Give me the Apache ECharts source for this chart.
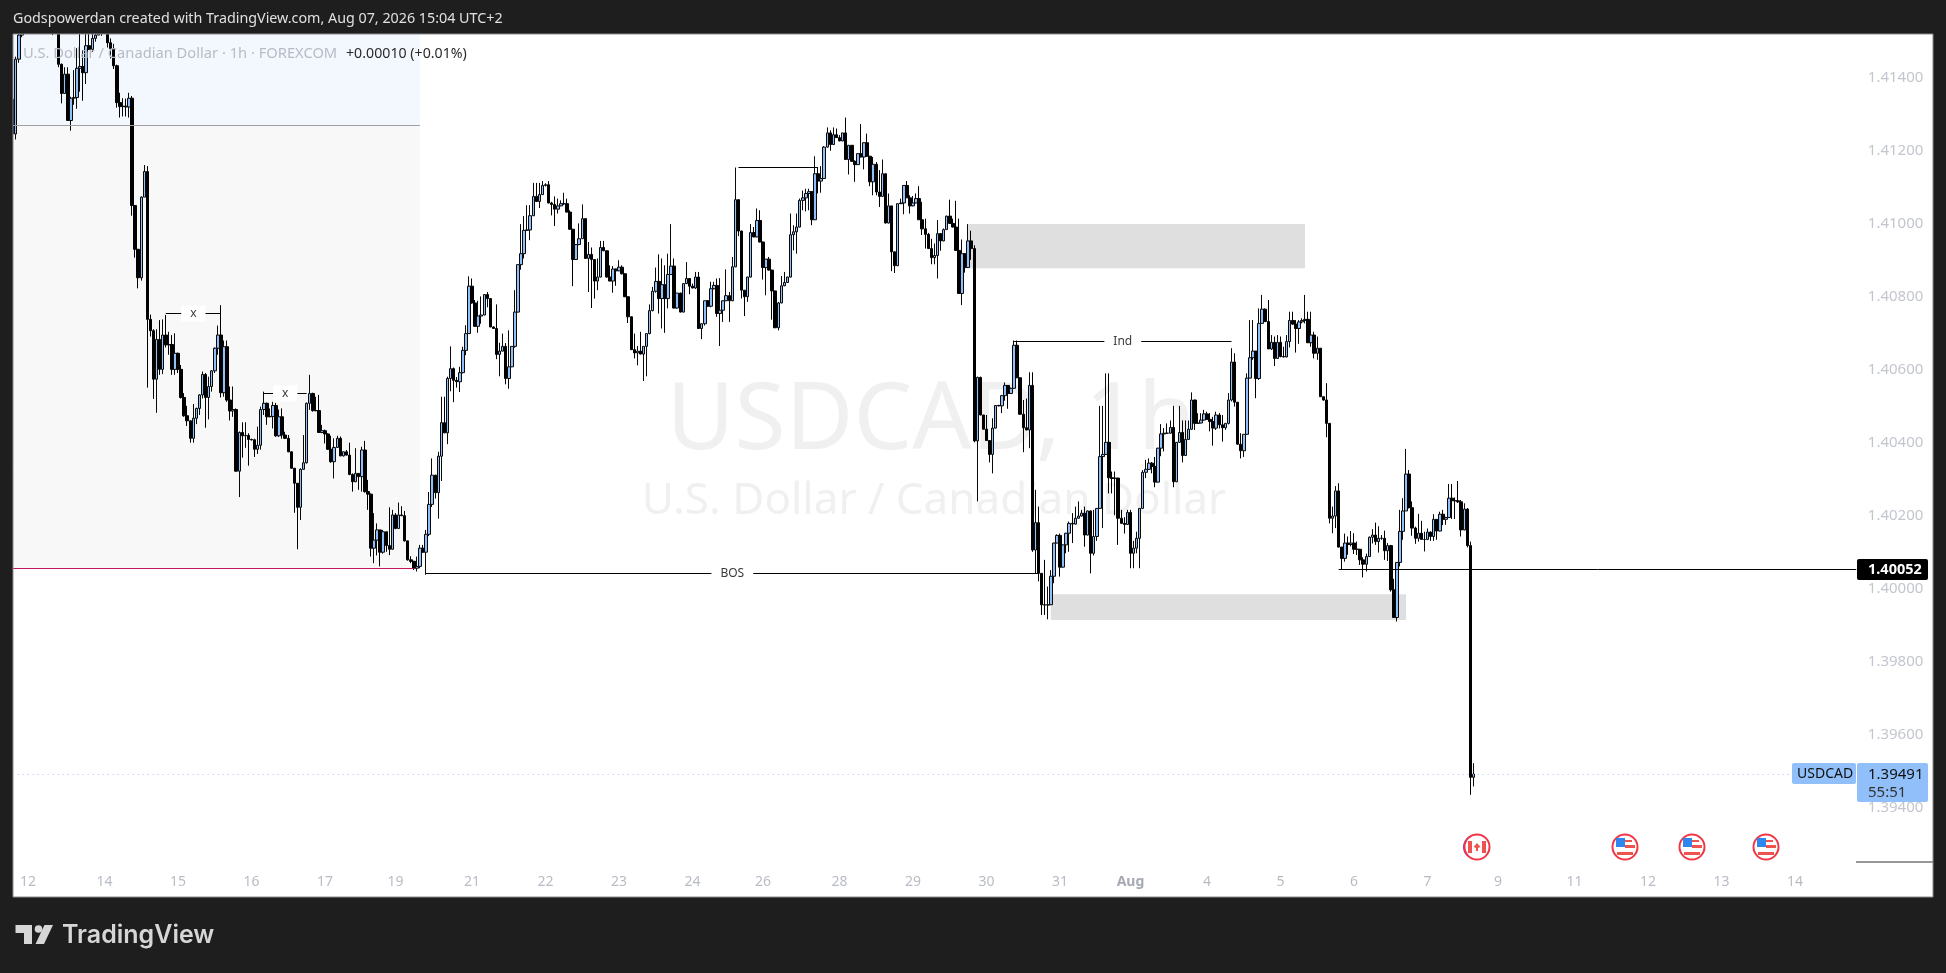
<!DOCTYPE html>
<html><head><meta charset="utf-8">
<style>html,body{margin:0;padding:0;background:#1e1e1e}#c{width:1946px;height:973px}</style>
<script src="https://cdn.jsdelivr.net/npm/echarts@6/dist/echarts.min.js"></script>
</head><body><div id="c"></div>
<script>
const opens=[1.4134,1.41245,1.4145,1.41516,1.4156,1.416,1.4158,1.4163,1.416,1.4165,
1.4162,1.416,1.4164,1.4159,1.4156,1.416,1.41436,1.41356,1.41409,1.41282,1.41343,
1.41345,1.41425,1.4143,1.41413,1.41487,1.41477,1.41507,1.41516,1.4156,1.4155,
1.4154,1.41495,1.41479,1.41432,1.41331,1.4132,1.41321,1.41319,1.41343,1.41049,
1.40929,1.40851,1.41072,1.41142,1.40737,1.40706,1.40573,1.40682,1.406,1.40694,
1.40667,1.40668,1.406,1.40644,1.406,1.40523,1.40473,1.40459,1.40411,1.40466,
1.40493,1.4053,1.40586,1.40523,1.40553,1.40596,1.40658,1.40694,1.40536,1.40662,
1.40516,1.40486,1.4049,1.40321,1.40427,1.40418,1.40419,1.40408,1.40407,1.40381,
1.40392,1.4049,1.40507,1.4047,1.40471,1.40501,1.40418,1.4047,1.4042,1.40411,
1.40374,1.40329,1.40288,1.40222,1.40326,1.40344,1.40507,1.40534,1.40487,1.40487,
1.40427,1.40432,1.40423,1.40381,1.40347,1.40386,1.40411,1.40363,1.40374,1.40365,
1.40312,1.40292,1.40315,1.40306,1.40379,1.40265,1.40258,1.4011,1.40132,1.4016,
1.40099,1.40155,1.40117,1.40107,1.40201,1.40164,1.40201,1.40199,1.4013,1.40078,
1.40074,1.40055,1.4006,1.4011,1.40099,1.40148,1.4023,1.4031,1.40262,1.40362,
1.40454,1.40426,1.40575,1.40602,1.4057,1.40566,1.40591,1.40652,1.40698,1.40828,
1.40782,1.40718,1.40746,1.40749,1.40805,1.40794,1.40716,1.40712,1.40641,1.4065,
1.40663,1.40575,1.40607,1.40663,1.40757,1.40887,1.40917,1.40981,1.40982,1.41021,
1.41074,1.4106,1.41079,1.41104,1.41106,1.41056,1.41052,1.41039,1.41048,1.41054,
1.41054,1.41031,1.40984,1.40901,1.40942,1.40958,1.41013,1.40904,1.40915,1.40901,
1.40842,1.40853,1.40934,1.40925,1.40853,1.40842,1.40875,1.4087,1.4088,1.40862,
1.40799,1.40744,1.40654,1.40645,1.4065,1.40642,1.40663,1.40698,1.40761,1.40814,
1.40841,1.40794,1.40832,1.40794,1.4086,1.40883,1.40768,1.40809,1.40757,1.40835,
1.40849,1.40828,1.40823,1.40853,1.40712,1.40725,1.40788,1.40773,1.40821,1.4083,
1.40753,1.40762,1.40788,1.40802,1.40788,1.40881,1.41065,1.40979,1.40817,1.40799,
1.40853,1.40975,1.40963,1.41008,1.40949,1.40879,1.40902,1.40872,1.40815,1.40714,
1.40782,1.40829,1.40838,1.40853,1.40969,1.40977,1.4099,1.41063,1.4107,1.41082,
1.41087,1.4101,1.41136,1.41116,1.41123,1.41209,1.41248,1.41216,1.41243,1.41235,
1.41226,1.41248,1.41175,1.41214,1.4117,1.41161,1.41191,1.41182,1.41221,1.41184,
1.41114,1.41162,1.41086,1.41074,1.41136,1.41001,1.41048,1.40922,1.40884,1.41054,
1.41056,1.41104,1.4107,1.41048,1.41056,1.41068,1.4101,1.40985,1.4097,1.40931,
1.40906,1.40912,1.40972,1.40952,1.40983,1.4102,1.41,1.4099,1.40926,1.40808,
1.40917,1.40879,1.40952,1.40931,1.40404,1.40578,1.40475,1.40436,1.40405,1.40367,
1.40439,1.40501,1.405,1.40528,1.40556,1.40534,1.40548,1.40666,1.40577,1.40477,
1.4044,1.40434,1.40556,1.40105,1.4018,1.40041,1.39955,1.39954,1.39955,1.40033,
1.40124,1.40145,1.40058,1.40119,1.40151,1.40178,1.40176,1.40192,1.40198,1.40206,
1.40146,1.40212,1.40096,1.40142,1.40219,1.40361,1.40367,1.404,1.40303,1.40301,
1.40302,1.40192,1.40178,1.40175,1.40208,1.40096,1.4011,1.40137,1.40219,1.40318,
1.40326,1.40343,1.40334,1.40291,1.40384,1.40423,1.40425,1.40425,1.40441,1.40292,
1.404,1.40427,1.40364,1.40408,1.40436,1.40516,1.40452,1.40453,1.40461,1.40478,
1.40463,1.40457,1.40439,1.40475,1.40448,1.4044,1.40452,1.40516,1.4062,1.4051,
1.40395,1.40377,1.40422,1.40576,1.40632,1.4065,1.40575,1.40726,1.40765,1.40731,
1.40656,1.40674,1.4063,1.40674,1.40635,1.40634,1.40676,1.40734,1.40724,1.40712,
1.4073,1.40734,1.40737,1.40673,1.40694,1.40644,1.40658,1.40525,1.40516,1.40452,
1.40192,1.40198,1.40267,1.40113,1.40082,1.40124,1.4012,1.40124,1.40107,1.40107,
1.40078,1.40066,1.40087,1.4014,1.40146,1.40128,1.40137,1.40137,1.40103,1.40117,
1.39996,1.3992,1.40071,1.40156,1.40212,1.40313,1.40221,1.40165,1.40137,1.40151,
1.40134,1.40134,1.40154,1.40142,1.40189,1.40157,1.40203,1.40189,1.40194,1.40247,
1.4024,1.4024,1.40237,1.4016,1.40217,1.40117,1.39482];
const closes=[1.41245,1.4145,1.41516,1.4156,1.416,1.4158,1.4163,1.416,1.4165,1.4162,
1.416,1.4164,1.4159,1.4156,1.416,1.41436,1.41356,1.41409,1.41282,1.41343,1.41345,
1.41425,1.4143,1.41413,1.41487,1.41477,1.41507,1.41516,1.4156,1.4155,1.4157,
1.41495,1.41479,1.41432,1.41331,1.4132,1.41321,1.41319,1.41343,1.41049,1.40929,
1.40851,1.41072,1.41142,1.40737,1.40706,1.40573,1.40682,1.406,1.40694,1.40667,
1.40668,1.406,1.40644,1.406,1.40523,1.40473,1.40459,1.40411,1.40466,1.40493,
1.4053,1.40586,1.40523,1.40553,1.40596,1.40658,1.40694,1.40536,1.40662,1.40516,
1.40486,1.4049,1.40321,1.40427,1.40418,1.40419,1.40408,1.40407,1.40381,1.40392,
1.4049,1.40507,1.4047,1.40471,1.40501,1.40418,1.4047,1.4042,1.40411,1.40374,
1.40329,1.40288,1.40222,1.40326,1.40344,1.40507,1.40534,1.40487,1.40487,1.40427,
1.40432,1.40423,1.40381,1.40347,1.40386,1.40411,1.40363,1.40374,1.40365,1.40312,
1.40292,1.40315,1.40306,1.40379,1.40265,1.40258,1.4011,1.40132,1.4016,1.40099,
1.40155,1.40117,1.40107,1.40201,1.40164,1.40201,1.40199,1.4013,1.40078,1.40074,
1.40055,1.4006,1.4011,1.40099,1.40148,1.4023,1.4031,1.40262,1.40362,1.40454,
1.40426,1.40575,1.40602,1.4057,1.40566,1.40591,1.40652,1.40698,1.40828,1.40782,
1.40718,1.40746,1.40749,1.40805,1.40794,1.40716,1.40712,1.40641,1.4065,1.40663,
1.40575,1.40607,1.40663,1.40757,1.40887,1.40917,1.40981,1.40982,1.41021,1.41074,
1.4106,1.41079,1.41104,1.41106,1.41056,1.41052,1.41039,1.41048,1.41054,1.41054,
1.41031,1.40984,1.40901,1.40942,1.40958,1.41013,1.40904,1.40915,1.40901,1.40842,
1.40853,1.40934,1.40925,1.40853,1.40842,1.40875,1.4087,1.4088,1.40862,1.40799,
1.40744,1.40654,1.40645,1.4065,1.40642,1.40663,1.40698,1.40761,1.40814,1.40841,
1.40794,1.40832,1.40794,1.4086,1.40883,1.40768,1.40809,1.40757,1.40835,1.40849,
1.40828,1.40823,1.40853,1.40712,1.40725,1.40788,1.40773,1.40821,1.4083,1.40753,
1.40762,1.40788,1.40802,1.40788,1.40881,1.41065,1.40979,1.40817,1.40799,1.40853,
1.40975,1.40963,1.41008,1.40949,1.40879,1.40902,1.40872,1.40815,1.40714,1.40782,
1.40829,1.40838,1.40853,1.40969,1.40977,1.4099,1.41063,1.4107,1.41082,1.41087,
1.4101,1.41136,1.41116,1.41123,1.41209,1.41248,1.41216,1.41243,1.41235,1.41226,
1.41248,1.41175,1.41214,1.4117,1.41161,1.41191,1.41182,1.41221,1.41184,1.41114,
1.41162,1.41086,1.41074,1.41136,1.41001,1.41048,1.40922,1.40884,1.41054,1.41056,
1.41104,1.4107,1.41048,1.41056,1.41068,1.4101,1.40985,1.4097,1.40931,1.40906,
1.40912,1.40972,1.40952,1.40983,1.4102,1.41,1.4099,1.40926,1.40808,1.40917,
1.40879,1.40952,1.40931,1.40404,1.40578,1.40475,1.40436,1.40405,1.40367,1.40439,
1.40501,1.405,1.40528,1.40556,1.40534,1.40548,1.40666,1.40577,1.40477,1.4044,
1.40434,1.40556,1.40105,1.4018,1.40041,1.39955,1.39954,1.39955,1.40033,1.40124,
1.40145,1.40058,1.40119,1.40151,1.40178,1.40176,1.40192,1.40198,1.40206,1.40146,
1.40212,1.40096,1.40142,1.40219,1.40361,1.40367,1.404,1.40303,1.40301,1.40302,
1.40192,1.40178,1.40175,1.40208,1.40096,1.4011,1.40137,1.40219,1.40318,1.40326,
1.40343,1.40334,1.40291,1.40384,1.40423,1.40425,1.40425,1.40441,1.40292,1.404,
1.40427,1.40364,1.40408,1.40436,1.40516,1.40452,1.40453,1.40461,1.40478,1.40463,
1.40457,1.40439,1.40475,1.40448,1.4044,1.40452,1.40516,1.4062,1.4051,1.40395,
1.40377,1.40422,1.40576,1.40632,1.4065,1.40575,1.40726,1.40765,1.40731,1.40656,
1.40674,1.4063,1.40674,1.40635,1.40634,1.40676,1.40734,1.40724,1.40712,1.4073,
1.40734,1.40737,1.40673,1.40694,1.40644,1.40658,1.40525,1.40516,1.40452,1.40192,
1.40198,1.40267,1.40113,1.40082,1.40124,1.4012,1.40124,1.40107,1.40107,1.40078,
1.40066,1.40087,1.4014,1.40146,1.40128,1.40137,1.40137,1.40103,1.40117,1.39996,
1.3992,1.40071,1.40156,1.40212,1.40313,1.40221,1.40165,1.40137,1.40151,1.40134,
1.40134,1.40154,1.40142,1.40189,1.40157,1.40203,1.40189,1.40194,1.40247,1.4024,
1.4024,1.40237,1.4016,1.40217,1.40117,1.39482,1.39491];
const lows=[1.41235,1.4123,1.4144,1.4151,1.4155,1.4156,1.4157,1.4158,1.4159,1.416,
1.4158,1.4158,1.4157,1.41516,1.4154,1.41428,1.41329,1.41356,1.41282,1.41254,1.41325,
1.41314,1.41361,1.41336,1.41382,1.41475,1.4147,1.41498,1.41516,1.41514,1.41526,
1.41482,1.41452,1.41423,1.41317,1.4129,1.41293,1.41293,1.4129,1.41021,1.40906,
1.40822,1.40843,1.41072,1.4055,1.4069,1.40519,1.40481,1.40585,1.40587,1.4066,
1.4064,1.40585,1.40585,1.4059,1.4052,1.4047,1.40445,1.40399,1.40399,1.4045,
1.40475,1.4052,1.4044,1.40463,1.40539,1.4059,1.4064,1.40523,1.40525,1.40511,
1.4046,1.4047,1.4032,1.4025,1.40358,1.40385,1.40336,1.40405,1.4036,1.40368,
1.4038,1.40475,1.40448,1.40469,1.40438,1.40415,1.40415,1.4041,1.40409,1.40373,
1.40328,1.40207,1.40107,1.40187,1.40325,1.40342,1.40489,1.40484,1.40485,1.40426,
1.40425,1.40397,1.40379,1.40344,1.40301,1.40385,1.40362,1.40361,1.40364,1.4031,
1.40265,1.40291,1.4027,1.40265,1.40262,1.40215,1.40087,1.40069,1.4009,1.4006,
1.40095,1.401,1.40091,1.40106,1.40162,1.40163,1.40198,1.40128,1.40076,1.40069,
1.4005,1.40046,1.40055,1.40097,1.40037,1.40143,1.40223,1.40246,1.40191,1.40294,
1.40425,1.40395,1.4054,1.4051,1.4055,1.40538,1.40589,1.40639,1.40697,1.4078,
1.40716,1.407,1.40725,1.40748,1.4077,1.40716,1.40711,1.40628,1.40581,1.40649,
1.40559,1.40547,1.40606,1.40659,1.40756,1.40873,1.40904,1.4098,1.40954,1.4102,
1.41059,1.41042,1.41078,1.41101,1.41055,1.41022,1.40993,1.41027,1.41047,1.4105,
1.4103,1.40983,1.40828,1.409,1.4094,1.40958,1.40903,1.40812,1.40768,1.40794,
1.40817,1.40852,1.40924,1.40852,1.40842,1.4081,1.40829,1.40869,1.4086,1.40798,
1.40727,1.40653,1.4063,1.40611,1.40641,1.40568,1.40581,1.40696,1.40759,1.4081,
1.40753,1.40712,1.407,1.40767,1.40859,1.40767,1.40766,1.40756,1.40756,1.40834,
1.40806,1.40822,1.4082,1.40712,1.40683,1.4072,1.40771,1.4077,1.40819,1.40744,
1.40664,1.4073,1.40787,1.4073,1.40787,1.4088,1.40965,1.40794,1.40746,1.40785,
1.40852,1.40962,1.40962,1.40948,1.40846,1.40803,1.40871,1.40736,1.40713,1.40707,
1.40781,1.40828,1.40837,1.40852,1.40926,1.40917,1.40989,1.41036,1.41033,1.41036,
1.40995,1.41009,1.41082,1.41084,1.41122,1.41208,1.41199,1.41215,1.41234,1.41225,
1.41225,1.41174,1.41134,1.41169,1.41114,1.4116,1.41181,1.41148,1.41183,1.41102,
1.41077,1.41077,1.41045,1.41073,1.41,1.41,1.40869,1.40864,1.40883,1.41053,
1.41025,1.4107,1.41027,1.41047,1.41055,1.4101,1.40968,1.40931,1.4093,1.40888,
1.40888,1.40849,1.40925,1.40951,1.40982,1.40999,1.40989,1.40925,1.40808,1.40776,
1.40865,1.40878,1.409,1.404,1.40238,1.40474,1.40435,1.40404,1.40345,1.40315,
1.40438,1.40499,1.4048,1.40514,1.40492,1.40533,1.40547,1.40576,1.40476,1.40373,
1.40433,1.40384,1.401,1.4004,1.40019,1.39927,1.39927,1.39915,1.39954,1.40014,
1.40123,1.40032,1.40057,1.40096,1.401,1.40124,1.40175,1.40191,1.40197,1.40114,
1.40145,1.40041,1.4009,1.4013,1.40218,1.40165,1.40366,1.4026,1.4026,1.402,
1.40119,1.40177,1.4015,1.40174,1.40055,1.40055,1.40096,1.40055,1.40218,1.40302,
1.40325,1.40315,1.40277,1.4029,1.40362,1.40375,1.40424,1.40424,1.40277,1.40291,
1.40399,1.40345,1.40363,1.40407,1.40434,1.40434,1.40451,1.40452,1.4046,1.40462,
1.4043,1.40391,1.40434,1.40438,1.40402,1.40434,1.40449,1.40512,1.40498,1.40394,
1.40356,1.4036,1.40421,1.40575,1.40626,1.40521,1.40571,1.40726,1.4073,1.40656,
1.40653,1.40609,1.40629,1.40633,1.40633,1.40633,1.4066,1.40722,1.40646,1.4067,
1.40726,1.40726,1.40673,1.40662,1.4063,1.40626,1.40525,1.40514,1.40414,1.40178,
1.40151,1.40165,1.40112,1.40052,1.40073,1.40092,1.40115,1.40094,1.40091,1.40064,
1.4003,1.40046,1.40086,1.40123,1.40119,1.40098,1.40133,1.40078,1.40075,1.39991,
1.3992,1.39909,1.4006,1.40133,1.40212,1.40219,1.40144,1.40122,1.40128,1.40133,
1.40101,1.40132,1.4013,1.4013,1.40133,1.40156,1.40173,1.40174,1.40193,1.4019,
1.4019,1.40234,1.40142,1.40159,1.40112,1.39434,1.39457];
const highs=[1.4136,1.41457,1.41525,1.4158,1.4162,1.4161,1.4165,1.4164,1.4167,1.4166,
1.4164,1.4165,1.4165,1.416,1.4162,1.4162,1.41438,1.41428,1.41428,1.41347,1.4142,
1.4148,1.4153,1.41475,1.4154,1.4154,1.4154,1.4155,1.4157,1.4158,1.4159,
1.4157,1.41507,1.41492,1.41435,1.41358,1.41343,1.41342,1.41358,1.41349,1.4105,
1.4093,1.41074,1.4116,1.41157,1.4075,1.4071,1.4071,1.40735,1.40737,1.40749,
1.40703,1.40694,1.40699,1.40646,1.40612,1.40535,1.405,1.4046,1.40505,1.40495,
1.40532,1.40594,1.4059,1.4058,1.40598,1.4066,1.4072,1.40776,1.40679,1.40679,
1.40553,1.40553,1.40493,1.4043,1.40455,1.40455,1.40425,1.4041,1.4041,1.40443,
1.40498,1.40539,1.40509,1.40493,1.40511,1.40508,1.4049,1.40493,1.40429,1.4042,
1.40375,1.4033,1.40288,1.40329,1.4042,1.40509,1.40585,1.40536,1.40525,1.4053,
1.40448,1.40435,1.40425,1.40418,1.40411,1.40418,1.40416,1.40375,1.40379,1.40399,
1.40315,1.40384,1.40315,1.40388,1.40404,1.40297,1.4026,1.40206,1.40178,1.4016,
1.4016,1.40155,1.40222,1.40215,1.40206,1.40235,1.40225,1.40212,1.4013,1.40088,
1.40075,1.40087,1.40119,1.40119,1.4016,1.40264,1.40356,1.40311,1.40374,1.40525,
1.40525,1.4058,1.40663,1.40605,1.40579,1.40607,1.40662,1.40721,1.40855,1.40849,
1.4079,1.40788,1.408,1.40805,1.40812,1.40794,1.40718,1.40778,1.40673,1.40698,
1.40672,1.40707,1.40663,1.40817,1.40888,1.40998,1.4102,1.4105,1.4105,1.41111,
1.41111,1.41111,1.41116,1.4111,1.41116,1.41059,1.41074,1.41068,1.41063,1.41084,
1.41068,1.41036,1.40985,1.40943,1.41,1.41052,1.41014,1.40949,1.40934,1.40901,
1.40904,1.40952,1.40952,1.40926,1.40885,1.40883,1.40876,1.40899,1.40885,1.40863,
1.408,1.40745,1.40698,1.40664,1.40703,1.40663,1.40698,1.40778,1.40826,1.40879,
1.40915,1.40904,1.40885,1.40917,1.40998,1.40904,1.40809,1.4081,1.40835,1.40894,
1.4085,1.40835,1.40867,1.40867,1.40726,1.40788,1.4079,1.4084,1.4084,1.40849,
1.4085,1.40789,1.40874,1.40812,1.40908,1.41153,1.41066,1.4098,1.40817,1.40854,
1.40998,1.4099,1.41041,1.41036,1.4095,1.40902,1.40908,1.40873,1.40815,1.40785,
1.40856,1.40867,1.40854,1.41027,1.40995,1.41027,1.41068,1.4109,1.41095,1.41095,
1.41088,1.41184,1.41153,1.41157,1.41212,1.41263,1.41255,1.41263,1.4126,1.41242,
1.41248,1.4129,1.41215,1.41214,1.41173,1.41192,1.41272,1.41222,1.41246,1.41185,
1.41182,1.41168,1.41146,1.41175,1.41137,1.41082,1.41048,1.40923,1.41055,1.41068,
1.41105,1.41116,1.41077,1.41075,1.41082,1.41102,1.41059,1.41013,1.40974,1.40958,
1.40945,1.41009,1.40973,1.40986,1.41021,1.41065,1.41013,1.41062,1.41013,1.40956,
1.40918,1.40998,1.4098,1.4094,1.4058,1.4058,1.40475,1.40475,1.40406,1.40466,
1.40502,1.40503,1.4053,1.40564,1.40557,1.4055,1.40679,1.40679,1.40578,1.40516,
1.4052,1.40592,1.40592,1.4027,1.40224,1.40042,1.40078,1.40005,1.4005,1.40125,
1.40148,1.4015,1.4012,1.40152,1.40183,1.40206,1.40224,1.40238,1.40215,1.40224,
1.40213,1.40213,1.40215,1.4022,1.405,1.405,1.40589,1.40589,1.4032,1.4032,
1.40303,1.40215,1.40195,1.40215,1.40215,1.4013,1.40155,1.4022,1.40324,1.40352,
1.40356,1.40346,1.4036,1.40385,1.4045,1.40439,1.40452,1.4046,1.405,1.40401,
1.405,1.4046,1.4046,1.4046,1.40537,1.40517,1.4048,1.4048,1.40489,1.40484,
1.4048,1.4047,1.40484,1.4048,1.40475,1.40453,1.40535,1.40658,1.40644,1.4051,
1.40425,1.40422,1.40589,1.40735,1.40735,1.4065,1.40767,1.40804,1.40767,1.4079,
1.40694,1.4069,1.40694,1.4069,1.40662,1.40694,1.40758,1.40758,1.40735,1.40735,
1.4074,1.40804,1.40758,1.40758,1.40703,1.4069,1.40658,1.40525,1.40562,1.40452,
1.40224,1.4028,1.40288,1.40113,1.4015,1.40142,1.40157,1.40151,1.40128,1.40108,
1.40085,1.40095,1.40142,1.40162,1.4018,1.4017,1.40146,1.40158,1.40124,1.40119,
1.40026,1.40071,1.40215,1.40247,1.40382,1.40324,1.40238,1.40169,1.40204,1.40185,
1.40155,1.40164,1.40156,1.40203,1.40189,1.4021,1.40215,1.40196,1.40286,1.40286,
1.40249,1.40294,1.40242,1.40233,1.4022,1.40128,1.39521];

const tickIndex=[5,30,54,78,102,125,150,174,198,222,245,270,294,318,342,365,390,414,438,462,485,510,534,558,582];
const tickLabels=['12','14','15','16','17','19','21','22','23','24','26','28','29','30','31','Aug','4','5','6','7','9','11','12','13','14'];
const priceTicks=[1.394,1.396,1.398,1.4,1.402,1.404,1.406,1.408,1.41,1.412,1.414];
const slotCount=603;
const lastPrice=1.39491, drawnLevel=1.40052;

const categories=[];for(let i=0;i<slotCount;i++){const k=tickIndex.indexOf(i);categories.push(k<0?'':tickLabels[k]);}
const candles=opens.map((o,i)=>[o,closes[i],lows[i],highs[i]]);

const FONT='"Noto Sans",sans-serif';
const hline=(x0,x1,y,color,label,extra)=>[{xAxis:x0,yAxis:y,lineStyle:Object.assign({color:color,width:1,type:'solid'},extra||{}),
  label:label?{show:true,position:'middle',distance:0,verticalAlign:'middle',align:'center',formatter:label,color:'#3a3a3a',fontFamily:FONT,fontSize:12,backgroundColor:'#fff',padding:[2,9]}:{show:false}},{xAxis:x1,yAxis:y}];

const chart=echarts.init(document.getElementById('c'),null,{renderer:'canvas'});
const txt=(x,y,text,fill,font,extra)=>({type:'text',x:x,y:y,z:(extra&&extra.z)||50,silent:true,style:Object.assign({text:text,fill:fill,font:font,textVerticalAlign:'middle'},extra||{})});
const rect=(x,y,w,h,fill,z,r,stroke)=>({type:'rect',z:z,silent:true,shape:{x:x,y:y,width:w,height:h,r:r||0},style:{fill:fill,stroke:stroke||null,lineWidth:1}});

function usFlag(cx,cy){return [
 {type:'circle',z:40,silent:true,shape:{cx:cx,cy:cy,r:12.5},style:{fill:'#fff',stroke:'#f23645',lineWidth:2}},
 rect(cx-9,cy-9,9,9,'#2f86ee',41),
 rect(cx,cy-7,7,2,'#ef5350',41),
 rect(cx,cy-2,10,3,'#ef5350',41),
 rect(cx-8,cy+5,16,3,'#ef5350',41)];}
function caFlag(cx,cy){return [
 {type:'circle',z:39,silent:true,shape:{cx:cx-1.5,cy:cy,r:12.5},style:{fill:'#7b3fe4'}},
 {type:'circle',z:40,silent:true,shape:{cx:cx,cy:cy,r:12.5},style:{fill:'#fff',stroke:'#f23645',lineWidth:2}},
 rect(cx-9,cy-6,4,12,'#ef5350',41),rect(cx+5,cy-6,4,12,'#ef5350',41),
 {type:'polygon',z:41,silent:true,shape:{points:[[cx,cy-4],[cx+3.5,cy],[cx+1,cy+1],[cx+1,cy+4],[cx-1,cy+4],[cx-1,cy+1],[cx-3.5,cy]]},style:{fill:'#ef5350'}}];}

chart.setOption({
 animation:false,
 backgroundColor:'#1e1e1e',
 grid:{left:11.1,top:34,width:1846.7,height:828,containLabel:false},
 xAxis:{type:'category',data:categories,boundaryGap:true,axisLine:{show:false},axisTick:{show:false},splitLine:{show:false},
  axisLabel:{interval:(i,v)=>v!=='',hideOverlap:false,showMinLabel:true,showMaxLabel:true,margin:13,fontFamily:FONT,fontSize:14,color:'#b9bcc6',
   formatter:v=>v==='Aug'?'{b|Aug}':v,rich:{b:{fontFamily:FONT,fontSize:14,fontWeight:'bold',color:'#a6a9b3'}}}},
 yAxis:{type:'value',position:'right',min:1.3925,max:1.41519,scale:true,axisLine:{show:false},splitLine:{show:false},
  axisTick:{show:false,customValues:priceTicks},
  axisLabel:{customValues:priceTicks,margin:10,align:'left',padding:[2,0,0,0],fontFamily:FONT,fontSize:15,color:'#c3c6ce',formatter:v=>v.toFixed(5),showMinLabel:true,showMaxLabel:true}},
 series:[
  {type:'line',z:1,data:[],silent:true,
   markArea:{silent:true,z:1,data:[
    [{xAxis:0,yAxis:1.41519,itemStyle:{color:'#f3f8ff'}},{xAxis:133,yAxis:1.41268}],
    [{xAxis:0,yAxis:1.41268,itemStyle:{color:'#f8f8f8'}},{xAxis:133,yAxis:1.40055}],
    [{xAxis:312,yAxis:1.40998,itemStyle:{color:'#dfdfdf'}},{xAxis:422,yAxis:1.40877}],
    [{xAxis:339,yAxis:1.39984,itemStyle:{color:'#dfdfdf'}},{xAxis:455,yAxis:1.39913}]
   ]}},
  {type:'candlestick',z:5,data:candles,barWidth:3,clip:true,
   itemStyle:{color:'#90bff9',color0:'#000000',borderColor:'#0a0a0a',borderColor0:'#000000',borderWidth:1},
   markLine:{silent:true,symbol:'none',animation:false,z:6,data:[
    hline(0,133,1.41268,'#a0a0a0'),
    hline(0,131,1.40055,'#c2185b'),
    hline(135,335,1.40041,'#000000','BOS'),
    hline(50,68,1.40753,'#000000','x'),
    hline(82,96,1.40534,'#000000','x'),
    hline(237,263,1.41155,'#000000'),
    hline(327,398,1.40677,'#000000','Ind'),
    hline(433,602,drawnLevel,'#000000'),
    hline(0,581,lastPrice,'#a9c4ea',null,{type:[1,4]})
   ]}}
 ],
 graphic:{elements:[].concat([
   rect(13,34,1920,863,'#ffffff',-5),
   txt(931,422,'USDCAD, 1h','#f0f0f0','93px '+FONT,{textAlign:'center',z:-4}),
   txt(934,501,'U.S. Dollar / Canadian Dollar','#f0f0f0','44px '+FONT,{textAlign:'center',z:-4}),
   rect(0,0,13,973,'#1e1e1e',60),
   rect(0,0,1946,34,'#1e1e1e',60),
   rect(13,34,1920,863,null,61,0,'#8b8b8b'),
   txt(13,19,'Godspowerdan created with TradingView.com, Aug 07, 2026 15:04 UTC+2','#e0e0e0','14.3px '+FONT,{z:62}),
   txt(23,54,'U.S. Dollar / Canadian Dollar · 1h · FOREXCOM','#b8bbc4','14.7px '+FONT),
   txt(346,54,'+0.00010 (+0.01%)','#2a2a2a','14.2px '+FONT),
   {type:'line',z:50,silent:true,shape:{x1:1856,y1:862,x2:1933,y2:862},style:{stroke:'#333',lineWidth:1}},
   rect(1857,559,71,21,'#000000',50,2),
   txt(1868,570,'1.40052','#ffffff','bold 14.5px '+FONT),
   rect(1792,763,64,21,'#90bff9',50,2),
   txt(1797,774,'USDCAD','#111111','14px '+FONT),
   rect(1857,763,71,39,'#90bff9',50,2),
   txt(1868,775,'1.39491','#111111','15px '+FONT),
   txt(1868,793,'55:51','#333333','15px '+FONT),
   {type:'polygon',z:50,silent:true,shape:{points:[[15.5,925],[32,925],[32,944],[24,944],[24,933],[15.5,933]]},style:{fill:'#d6d6d6'}},
   {type:'circle',z:50,silent:true,shape:{cx:38.5,cy:929,r:3.8},style:{fill:'#d6d6d6'}},
   {type:'polygon',z:50,silent:true,shape:{points:[[44.5,925],[53,925],[44,944],[35.5,944]]},style:{fill:'#d6d6d6'}},
   txt(62,935,'TradingView','#d6d6d6','600 25px Inter')
  ],caFlag(1477,847),usFlag(1625,847),usFlag(1692,847),usFlag(1766,847))}
});
</script></body></html>
